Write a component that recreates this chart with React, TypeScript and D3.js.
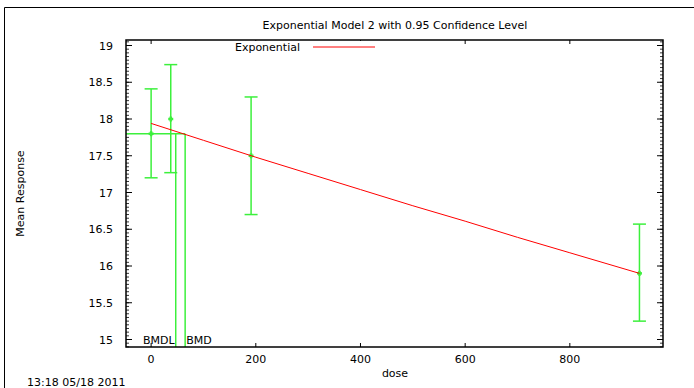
import React from "react";
import * as d3 from "d3";

const doses = [0, 37.5, 191, 933];
const means = [17.8, 18.0, 17.5, 15.9];
const lowerCI = [17.2, 17.27, 16.7, 15.25];
const upperCI = [18.41, 18.74, 18.3, 16.57];

const fitDoses = [0, 100, 200, 300, 400, 500, 600, 700, 800, 933];
const fitValues = [17.94, 17.71, 17.48, 17.26, 17.04, 16.82, 16.61, 16.39, 16.18, 15.9];

const bmrLevel = 17.8;
const bmdl = 47;
const bmd = 65;

const xTicks = [0, 200, 400, 600, 800];
const yTicks = [15, 15.5, 16, 16.5, 17, 17.5, 18, 18.5, 19];

const W = 694;
const H = 388;
const L = 126, R = 663, T = 40, B = 347;
const FONT = "'DejaVu Sans', sans-serif";
const FS = 11;
const GREEN = "#3cf03c";

export default function App() {
  const x = d3.scaleLinear().domain([-48, 978]).range([L, R]);
  const y = d3.scaleLinear().domain([14.898, 19.075]).range([B, T]);
  const minor = d3.range(14.9, 19.075, 0.05).map((v) => Math.round(v * 100) / 100);
  const line = d3
    .line<number>()
    .x((_, i) => x(fitDoses[i]))
    .y((d) => y(d));

  return (
    <svg width={W} height={H} style={{ position: "absolute", left: 0, top: 0, background: "#fff" }} fontFamily={FONT}>
      <rect x={0} y={0} width={W} height={H} fill="#fff" />
      {/* outer frame */}
      <line x1={4.5} y1={7.5} x2={W} y2={7.5} stroke="#000" strokeWidth={1} />
      <line x1={4.5} y1={7.5} x2={4.5} y2={H} stroke="#000" strokeWidth={1} />

      <text x={395} y={29} textAnchor="middle" fontSize={FS} fill="#000">
        Exponential Model 2 with 0.95 Confidence Level
      </text>

      {/* minor y ticks */}
      {minor.map((v, i) => (
        <g key={"m" + i}>
          <line x1={L} x2={L + 3} y1={y(v)} y2={y(v)} stroke="#000" strokeWidth={0.8} />
          <line x1={R} x2={R - 3} y1={y(v)} y2={y(v)} stroke="#000" strokeWidth={0.8} />
        </g>
      ))}
      {/* major y ticks */}
      {yTicks.map((v) => (
        <g key={"y" + v}>
          <line x1={L} x2={L + 6} y1={y(v)} y2={y(v)} stroke="#000" strokeWidth={1} />
          <line x1={R} x2={R - 6} y1={y(v)} y2={y(v)} stroke="#000" strokeWidth={1} />
          <text x={113} y={y(v) + 4} textAnchor="end" fontSize={FS} fill="#000">
            {v}
          </text>
        </g>
      ))}
      {/* x ticks */}
      {xTicks.map((v) => (
        <g key={"x" + v}>
          <line x1={x(v)} x2={x(v)} y1={B} y2={B - 4} stroke="#000" strokeWidth={1} />
          <line x1={x(v)} x2={x(v)} y1={T} y2={T + 4} stroke="#000" strokeWidth={1} />
          <text x={x(v)} y={363} textAnchor="middle" fontSize={FS} fill="#000">
            {v}
          </text>
        </g>
      ))}

      {/* BMD lines */}
      <line x1={L} x2={x(bmd)} y1={y(bmrLevel)} y2={y(bmrLevel)} stroke={GREEN} strokeWidth={1.5} />
      <line x1={x(bmdl)} x2={x(bmdl)} y1={y(bmrLevel)} y2={B} stroke={GREEN} strokeWidth={1.5} />
      <line x1={x(bmd)} x2={x(bmd)} y1={y(bmrLevel)} y2={B} stroke={GREEN} strokeWidth={1.5} />
      <text x={x(bmdl) - 1} y={y(15) + 4} textAnchor="end" fontSize={FS} fill="#000">BMDL</text>
      <text x={x(bmd) + 1} y={y(15) + 4} textAnchor="start" fontSize={FS} fill="#000">BMD</text>

      {/* error bars */}
      {doses.map((d, i) => (
        <g key={"e" + i} stroke={GREEN} strokeWidth={1.5}>
          <line x1={x(d)} x2={x(d)} y1={y(lowerCI[i])} y2={y(upperCI[i])} />
          <line x1={x(d) - 6.5} x2={x(d) + 6.5} y1={y(lowerCI[i])} y2={y(lowerCI[i])} />
          <line x1={x(d) - 6.5} x2={x(d) + 6.5} y1={y(upperCI[i])} y2={y(upperCI[i])} />
          <line x1={x(d) - 2.5} x2={x(d) + 2.5} y1={y(means[i])} y2={y(means[i])} strokeWidth={2.5} />
          <line x1={x(d)} x2={x(d)} y1={y(means[i]) - 2.5} y2={y(means[i]) + 2.5} strokeWidth={2.5} />
        </g>
      ))}

      {/* fitted line */}
      <path d={line(fitValues) || ""} fill="none" stroke="#ff0000" strokeWidth={1} />

      {/* legend */}
      <rect x={228} y={41} width={152} height={13} fill="#fff" />
      <text x={300} y={51} textAnchor="end" fontSize={FS} fill="#000">Exponential</text>
      <line x1={313} x2={375} y1={47} y2={47} stroke="#ff0000" strokeWidth={1} />

      {/* frame */}
      <rect x={L} y={T} width={R - L} height={B - T} fill="none" stroke="#000" strokeWidth={1.5} />

      <text x={395} y={377} textAnchor="middle" fontSize={FS} fill="#000">dose</text>
      <text transform={`translate(24,${(T + B) / 2}) rotate(-90)`} textAnchor="middle" fontSize={FS} fill="#000">
        Mean Response
      </text>
      <text x={27} y={386} fontSize={FS} fill="#000">13:18 05/18 2011</text>
    </svg>
  );
}
